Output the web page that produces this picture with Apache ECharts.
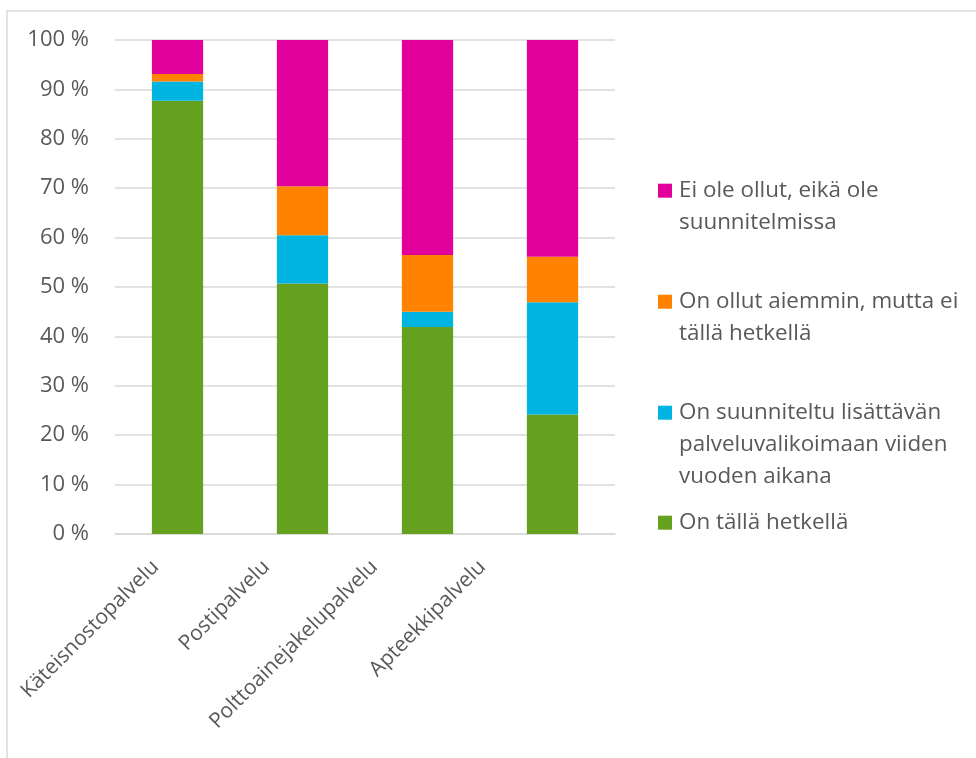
<!DOCTYPE html>
<html>
<head>
<meta charset="utf-8">
<script src="https://cdn.jsdelivr.net/npm/echarts@6/dist/echarts.min.js"></script>
<style>html,body{margin:0;padding:0;background:#fff}#c{width:976px;height:758px}</style>
</head>
<body>
<div id="c"></div>
<script>
const categories = ['Käteisnostopalvelu', 'Postipalvelu', 'Polttoainejakelupalvelu', 'Apteekkipalvelu'];
const seriesNames = [
  'On tällä hetkellä',
  'On suunniteltu lisättävän palveluvalikoimaan viiden vuoden aikana',
  'On ollut aiemmin, mutta ei tällä hetkellä',
  'Ei ole ollut, eikä ole suunnitelmissa'
];
const legendLines = [
  ['On tällä hetkellä'],
  ['On suunniteltu lisättävän', 'palveluvalikoimaan viiden', 'vuoden aikana'],
  ['On ollut aiemmin, mutta ei', 'tällä hetkellä'],
  ['Ei ole ollut, eikä ole', 'suunnitelmissa']
];
const onNyt = [87.7, 50.7, 41.9, 24.2];
const suunniteltu = [3.9, 9.8, 3.1, 22.7];
const aiemmin = [1.5, 9.9, 11.5, 9.2];
const eiOle = [6.9, 29.6, 43.5, 43.9];
const yTicks = [0, 10, 20, 30, 40, 50, 60, 70, 80, 90, 100];

// styling (label offsets in rotated frame: [back along text, up])
const labelShift = [[28, 3], [38, 13], [50, 25], [62, 37]];
const colors = ['#65A01F', '#00B5E2', '#FF8200', '#E2009A'];
const values = [onNyt, suunniteltu, aiemmin, eiOle];
const FONT = 'Open Sans';
const TXT = '#595959';
const LH = 32;
const XFS = 21;

const series = seriesNames.map((n, i) => ({
  name: n,
  type: 'bar',
  stack: 'total',
  barWidth: '41%',
  data: values[i],
  itemStyle: { color: colors[i] }
}));

const legendCentres = [522.7, 412.7, 301.7, 190.7];
const legends = seriesNames.map((n, i) => {
  const k = legendLines[i].length;
  const txt = '\n'.repeat(k - 1) + legendLines[i].join('\n');
  return {
    orient: 'vertical',
    left: 658,
    top: legendCentres[i] - (2 * k - 1) * LH / 2,
    padding: 0,
    itemWidth: 14,
    itemHeight: 14,
    itemGap: 6,
    icon: 'rect',
    data: [n],
    formatter: () => txt,
    textStyle: { color: TXT, fontFamily: FONT, fontSize: 22.4, lineHeight: LH, padding: [0, 0, 0, 2] }
  };
});

const xData = categories.map((c, i) => ({
  value: c,
  textStyle: { padding: [0, labelShift[i][0], 0, 0] }
}));
const rich = { t: { color: TXT, fontFamily: FONT, fontSize: XFS, lineHeight: 28 } };
labelShift.forEach((s, i) => {
  rich['g' + i] = { fontSize: 1, lineHeight: 2 * s[1], color: 'rgba(0,0,0,0)' };
});

const chart = echarts.init(document.getElementById('c'));
chart.setOption({
  backgroundColor: '#fff',
  animation: false,
  graphic: [{
    type: 'rect',
    shape: { x: 7, y: 11, width: 1100, height: 1000 },
    style: { fill: 'none', stroke: '#d9d9d9', lineWidth: 1.5 },
    silent: true
  }],
  legend: legends,
  grid: { left: 115, right: 361, top: 40, bottom: 224, containLabel: false },
  xAxis: {
    type: 'category',
    data: xData,
    axisLine: { show: true, lineStyle: { color: '#d9d9d9', width: 1.5 } },
    axisTick: { show: false },
    axisLabel: {
      rotate: 45, color: TXT, fontFamily: FONT, fontSize: XFS, margin: 12, interval: 0,
      formatter: (v, i) => '{t|' + v + '}\n{g' + i + '| }',
      rich: rich
    }
  },
  yAxis: {
    type: 'value',
    min: yTicks[0],
    max: yTicks[yTicks.length - 1],
    interval: 10,
    axisLine: { show: false },
    axisTick: { show: false },
    splitLine: { lineStyle: { color: '#d9d9d9', width: 1.5 } },
    axisLabel: { formatter: '{value} %', color: TXT, fontFamily: FONT, fontSize: 22, margin: 26 }
  },
  series: series
});
</script>
</body>
</html>
